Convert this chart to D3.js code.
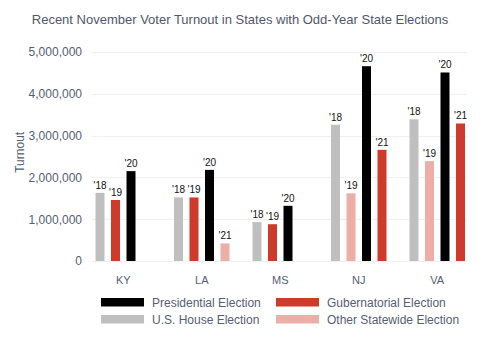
<!DOCTYPE html>
<html>
<head>
<meta charset="utf-8">
<script src="https://cdn.jsdelivr.net/npm/d3@7"></script>
<style>
  html, body { margin: 0; padding: 0; background: #fff; }
  svg { display: block; font-family: "Liberation Sans", Arial, sans-serif; }
</style>
</head>
<body>
<div id="chart"></div>
<script>
const states = ['KY', 'LA', 'MS', 'NJ', 'VA'];
const slotYears = ["'18", "'19", "'20", "'21"];

// one entry per state, per slot (null = no election that year)
const houseTurnout = [1630000, 1520000, 930000, 3260000, 3390000];
const oddYear19Turnout = [1460000, 1520000, 880000, 1620000, 2390000];
const oddYear19Type = ['gov', 'gov', 'gov', 'other', 'other'];
const presidentialTurnout = [2150000, 2180000, 1320000, 4660000, 4510000];
const oddYear21Turnout = [null, 420000, null, 2660000, 3290000];
const oddYear21Type = [null, 'other', null, 'gov', 'gov'];

const yTicks = [0, 1000000, 2000000, 3000000, 4000000, 5000000];

const legendItems = [
  { key: 'pres', label: 'Presidential Election' },
  { key: 'gov', label: 'Gubernatorial Election' },
  { key: 'house', label: 'U.S. House Election' },
  { key: 'other', label: 'Other Statewide Election' }
];

const colors = {
  pres: '#000000',
  gov: '#cf3b2b',
  house: '#bfbfbf',
  other: '#eeaea8'
};

const bars = [];
states.forEach((state, i) => {
  bars.push({ state, slot: 0, type: 'house', value: houseTurnout[i] });
  bars.push({ state, slot: 1, type: oddYear19Type[i], value: oddYear19Turnout[i] });
  bars.push({ state, slot: 2, type: 'pres', value: presidentialTurnout[i] });
  if (oddYear21Turnout[i] !== null) {
    bars.push({ state, slot: 3, type: oddYear21Type[i], value: oddYear21Turnout[i] });
  }
});

const width = 480;
const height = 348;
const margin = { top: 52, right: 12, bottom: 87, left: 92 };
const textColor = '#565d76';

const svg = d3.select('#chart')
  .append('svg')
  .attr('width', width)
  .attr('height', height);

svg.append('text')
  .attr('x', 240)
  .attr('y', 24)
  .attr('text-anchor', 'middle')
  .attr('fill', '#4f5670')
  .style('font-size', '13px')
  .text('Recent November Voter Turnout in States with Odd-Year State Elections');

const y = d3.scaleLinear()
  .domain([0, 5000000])
  .range([height - margin.bottom, margin.top]);

const x = d3.scaleBand()
  .domain(states)
  .range([84, 476.5]);

const xSlot = d3.scaleBand()
  .domain([0, 1, 2, 3])
  .range([11.5, 67])
  .paddingInner(0.42);

// gridlines
svg.append('g')
  .selectAll('line')
  .data(yTicks)
  .join('line')
  .attr('x1', margin.left)
  .attr('x2', 467)
  .attr('y1', d => Math.round(y(d)) + 0.5)
  .attr('y2', d => Math.round(y(d)) + 0.5)
  .attr('stroke', '#f0f0f0')
  .attr('stroke-width', 1);

// y axis labels
const yAxis = svg.append('g')
  .attr('transform', `translate(${margin.left - 7}, 0)`)
  .call(d3.axisLeft(y).tickValues(yTicks).tickFormat(d3.format(',')).tickSize(0));
yAxis.select('.domain').remove();
yAxis.selectAll('text')
  .attr('fill', textColor)
  .style('font-size', '12px')
  .style('font-family', '"Liberation Sans", Arial, sans-serif');

svg.append('text')
  .attr('transform', `translate(24, ${y(2600000)}) rotate(-90)`)
  .attr('text-anchor', 'middle')
  .attr('fill', textColor)
  .style('font-size', '12px')
  .text('Turnout');

// x axis labels
const xAxis = svg.append('g')
  .attr('transform', `translate(0, ${height - margin.bottom + 12})`)
  .call(d3.axisBottom(x).tickSize(0));
xAxis.select('.domain').remove();
xAxis.selectAll('text')
  .attr('fill', textColor)
  .style('font-size', '11px')
  .style('font-family', '"Liberation Sans", Arial, sans-serif');

// bars
const barGroup = svg.append('g');
barGroup.selectAll('rect')
  .data(bars)
  .join('rect')
  .attr('x', d => x(d.state) + xSlot(d.slot))
  .attr('y', d => y(d.value))
  .attr('width', xSlot.bandwidth())
  .attr('height', d => y(0) - y(d.value))
  .attr('fill', d => colors[d.type]);

barGroup.selectAll('text')
  .data(bars)
  .join('text')
  .attr('x', d => x(d.state) + xSlot(d.slot) + xSlot.bandwidth() / 2)
  .attr('y', d => y(d.value) - 4)
  .attr('text-anchor', 'middle')
  .attr('fill', '#111')
  .style('font-size', '10px')
  .text(d => slotYears[d.slot]);

// legend
const legend = svg.append('g');
const legendCols = [101, 276];
const legendRows = [298, 315];
legendItems.forEach((item, i) => {
  const col = i % 2;
  const row = Math.floor(i / 2);
  const g = legend.append('g')
    .attr('transform', `translate(${legendCols[col]}, ${legendRows[row]})`);
  g.append('rect')
    .attr('width', 43)
    .attr('height', 8.5)
    .attr('fill', colors[item.key]);
  g.append('text')
    .attr('x', 51)
    .attr('y', 8.5)
    .attr('fill', textColor)
    .style('font-size', '12px')
    .text(item.label);
});
</script>
</body>
</html>
